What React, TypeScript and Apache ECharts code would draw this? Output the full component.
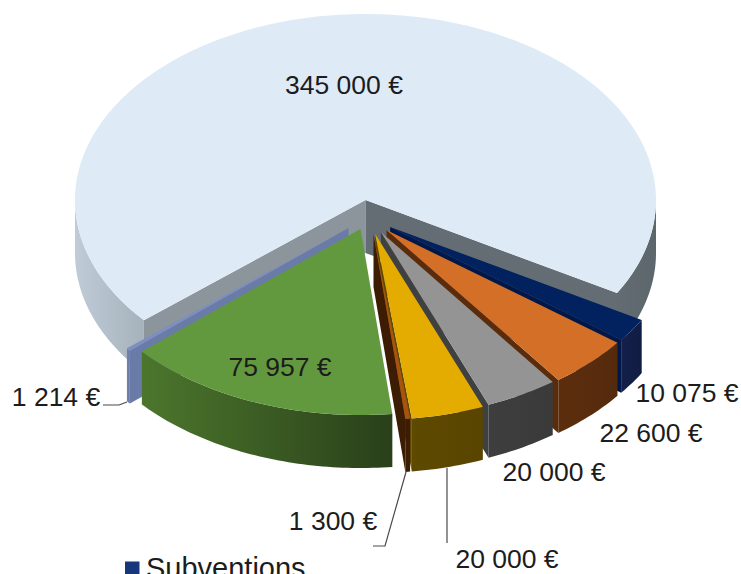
import React, { useEffect, useRef } from "react";
import * as echarts from "echarts";

const legendLabel = "Subventions";
// Amounts in euros, clockwise from the large slice
const amounts = [345000, 10075, 22600, 20000, 20000, 1300, 75957, 1214];

const W = 741, H = 574;
const CX = 365.5, CY = 200, RX = 290.5, RY = 186, DEPTH = 53;
const START_ANGLE = 139.7;
const FONT = "'Liberation Sans', Arial, sans-serif";

// Exploded-slice offsets on screen
const explodeX = [0, 24.7, 21, 15.4, 9.7, 8, -5, -17];
const explodeY = [0, 27, 30, 32, 34, 34, 29, 28];
// Painter order
const stacking = [0, 1, 2, 3, 4, 5, 7, 6];
const topColors = ["#deebf7", "#02225f", "#d36f27", "#949494", "#e4ab00", "#a8540f", "#63993e", "#7d8fc0"];
const wallLeft = ["#bfccd8", "#14204a", "#5c2e0e", "#3e3e3e", "#5e4900", "#3d1c04", "#4c762c", "#6f80ae"];
const wallRight = ["#5c666b", "#101c42", "#552a0c", "#3a3a3a", "#5a4500", "#3d1c04", "#29401a", "#6a7ba8"];
const cutColors = ["#8b959b", "#00174a", "#5a2c0c", "#3e4042", "#5e4900", "#3d1c04", "#3a5a20", "#6a7ba8"];
const cutEndColors = ["#636d73", "#00174a", "#5a2c0c", "#3e4042", "#5e4900", "#3d1c04", "#3a5a20", "#6a7ba8"];

const labelX = [344, 687, 651, 554, 507, 333, 280, 56];
const labelY = [85, 393, 433, 472, 559, 521, 367, 397];

const leaderLines: number[][][] = [
  [[103, 405], [119, 405], [127, 402]],
  [[373, 546], [385, 546], [406, 472]],
  [[447, 468], [447, 543]],
];

const money = (v: number) => `${String(v).replace(/\B(?=(\d{3})+$)/g, " ")} €`;
const rad = (d: number) => (d * Math.PI) / 180;
const onTop = (deg: number, ox: number, oy: number) => [
  CX + ox + RX * Math.cos(rad(deg)),
  CY + oy + RY * Math.sin(rad(deg)),
];
const arc = (a0: number, a1: number, ox: number, oy: number) => {
  const n = Math.max(2, Math.ceil(Math.abs(a1 - a0)));
  const pts: number[][] = [];
  for (let i = 0; i <= n; i++) pts.push(onTop(a0 + ((a1 - a0) * i) / n, ox, oy));
  return pts;
};
const hGrad = (a: string, b: string) => ({
  type: "linear", x: 0, y: 0, x2: 1, y2: 0,
  colorStops: [{ offset: 0, color: a }, { offset: 1, color: b }],
});

const total = amounts.reduce((s, v) => s + v, 0);
const startAngles: number[] = [];
amounts.reduce((acc, v, i) => {
  startAngles[i] = acc;
  return acc + (v / total) * 360;
}, START_ANGLE);

function renderSlice(_: any, api: any) {
  const i = api.value(0) as number;
  const value = api.value(1) as number;
  const a0 = startAngles[i];
  const a1 = a0 + (value / total) * 360;
  const ox = explodeX[i], oy = explodeY[i];
  const z = stacking[i] * 10 + 1;
  const apex = [CX + ox, CY + oy];
  const children: any[] = [];
  const poly = (points: number[][], fill: any, zz = z) => ({
    type: "polygon", z2: zz, silent: true,
    shape: { points },
    style: { fill, stroke: null },
  });
  const down = (p: number[]) => [p[0], p[1] + DEPTH];

  // Cut faces
  const p0 = onTop(a0, ox, oy), p1 = onTop(a1, ox, oy);
  if (Math.cos(rad(a0)) < 0) {
    children.push(poly([apex, p0, down(p0), down(apex)], cutColors[i]));
  }
  if (Math.cos(rad(a1)) > 0) {
    children.push(poly([apex, p1, down(p1), down(apex)], cutEndColors[i]));
  }
  // Outer wall (only the front half of the rim)
  const ranges: number[][] = [];
  for (const [lo, hi] of [[0, 180], [360, 540]]) {
    const s = Math.max(a0, lo), e = Math.min(a1, hi);
    if (e > s) ranges.push([s, e]);
  }
  for (const [s, e] of ranges) {
    const rim = arc(s, e, ox, oy);
    const low = rim.map(down).reverse();
    let fill: any = hGrad(wallLeft[i], wallRight[i]);
    if (i === 0) {
      fill = s < 360 ? hGrad(wallLeft[0], "#a6b2bb") : hGrad("#626c72", wallRight[0]);
    }
    children.push(poly([...rim, ...low], fill));
  }
  // Top face
  children.push(poly([apex, ...arc(a0, a1, ox, oy)], topColors[i], z + 1));
  // Value label
  children.push({
    type: "text", z2: 200, silent: true,
    x: labelX[i], y: labelY[i],
    style: {
      text: money(value), fill: "#1c1c1c",
      fontFamily: FONT, fontSize: 26.5,
      align: "center", verticalAlign: "middle",
    },
  });
  return { type: "group", children };
}

export default function App() {
  const ref = useRef<HTMLDivElement>(null);
  useEffect(() => {
    if (!ref.current) return;
    const chart = echarts.init(ref.current, undefined, { renderer: "svg", width: W, height: H });
    chart.setOption({
      animation: false,
      backgroundColor: "#ffffff",
      tooltip: { show: false },
      graphic: [
        ...leaderLines.map((points) => ({
          type: "polyline", z: 10, silent: true,
          shape: { points },
          style: { stroke: "#4a4a4a", lineWidth: 1.2, fill: null },
        })),
        {
          type: "rect", z: 10, silent: true,
          shape: { x: 125, y: 561.5, width: 14.5, height: 14.5 },
          style: { fill: "#17377c" },
        },
        {
          type: "text", z: 10, silent: true,
          x: 146, y: 553,
          style: { text: legendLabel, fill: "#1c1c1c", fontFamily: FONT, fontSize: 29, align: "left", verticalAlign: "top" },
        },
      ],
      series: [
        {
          type: "custom",
          coordinateSystem: "none",
          silent: true,
          renderItem: renderSlice,
          data: amounts.map((v, i) => [i, v]),
        },
      ],
    });
    return () => chart.dispose();
  }, []);
  return (
    <div
      ref={ref}
      style={{ position: "absolute", left: 0, top: 0, width: W, height: H, overflow: "hidden" }}
    />
  );
}
